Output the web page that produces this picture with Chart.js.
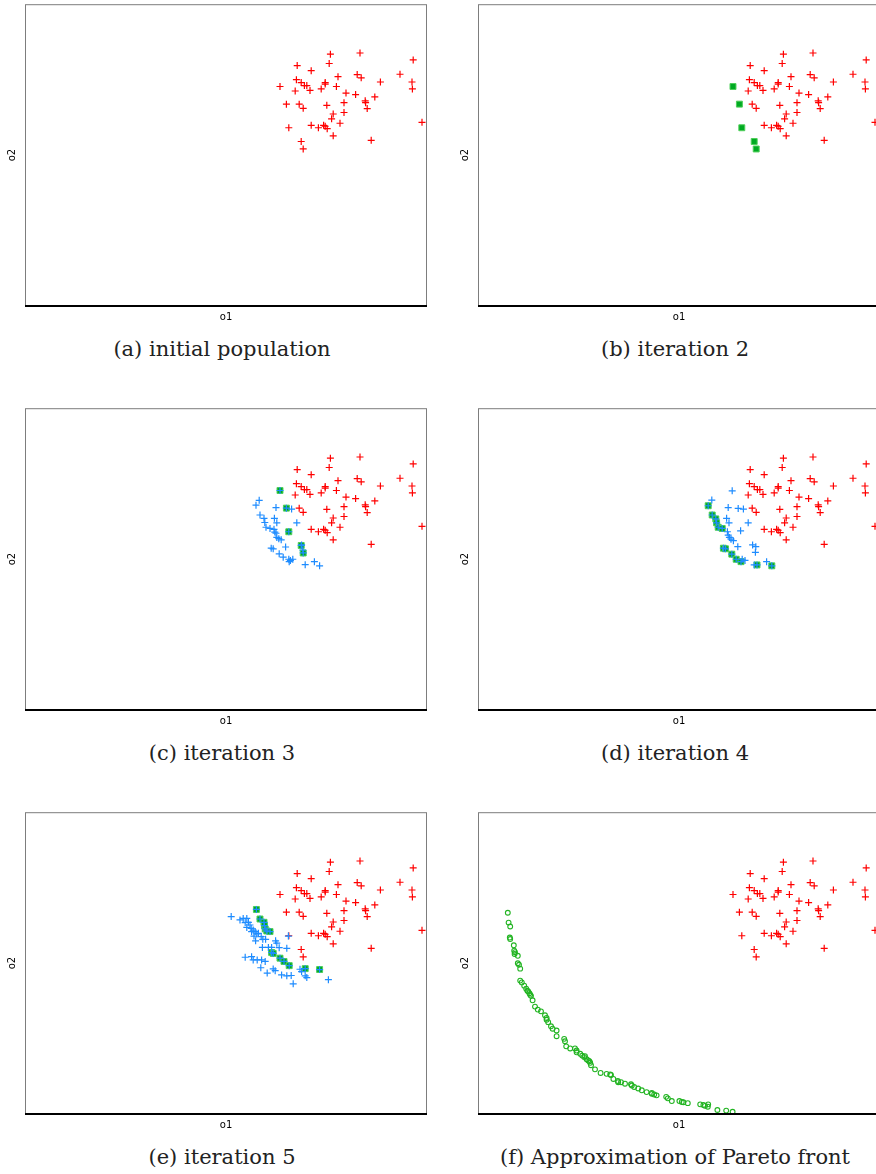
<!DOCTYPE html>
<html>
<head>
<meta charset="utf-8">
<script src="https://cdn.jsdelivr.net/npm/chart.js@4.4.0/dist/chart.umd.min.js"></script>
<style>
  html, body { margin:0; padding:0; background:#fff; width:876px; height:1174px; overflow:hidden; position:relative; }
  .panel { position:absolute; width:440px; height:330px; }
  .cap { position:absolute; width:440px; text-align:center; font-family:"DejaVu Serif", serif; font-size:21px; line-height:30px; color:#222; }
</style>
</head>
<body>
<div class="panel" style="left:0;top:0"><canvas id="pa" width="440" height="330"></canvas></div>
<div class="panel" style="left:453px;top:0"><canvas id="pb" width="440" height="330"></canvas></div>
<div class="panel" style="left:0;top:404px"><canvas id="pc" width="440" height="330"></canvas></div>
<div class="panel" style="left:453px;top:404px"><canvas id="pd" width="440" height="330"></canvas></div>
<div class="panel" style="left:0;top:808px"><canvas id="pe" width="440" height="330"></canvas></div>
<div class="panel" style="left:453px;top:808px"><canvas id="pf" width="440" height="330"></canvas></div>

<div class="cap" id="ca" style="left:2px;top:334px"></div>
<div class="cap" id="cb" style="left:455px;top:334px"></div>
<div class="cap" id="cc" style="left:2px;top:738px"></div>
<div class="cap" id="cd" style="left:455px;top:738px"></div>
<div class="cap" id="ce" style="left:2px;top:1142px"></div>
<div class="cap" id="cf" style="left:455px;top:1142px"></div>

<script>
  /* ── Data (axis units: o1 0..100, o2 0..100) ── */
  const axisX = 'o1';
  const axisY = 'o2';
  const captions = ['(a) initial population', '(b) iteration 2', '(c) iteration 3',
                    '(d) iteration 4', '(e) iteration 5', '(f) Approximation of Pareto front'];

  // initial population: the five non-dominated ones and the rest
  const redFront = [[63.5,73.1],[65.1,67.2],[65.7,59.3],[68.8,54.7],[69.3,52.2]];
  const redRest = [
    [76.1,83.9],[83.5,84.3],[96.8,82.0],[67.8,80.1],[71.3,78.4],[75.8,80.8],[78.0,76.4],[82.8,77.1],
    [83.8,76.0],[93.5,77.2],[67.6,75.4],[68.8,74.4],[69.6,73.4],[70.2,73.4],[71.0,71.8],[67.3,71.6],
    [73.8,72.3],[74.8,74.4],[74.8,73.9],[77.6,73.1],[80.0,70.9],[82.4,70.4],[88.6,74.6],[96.5,74.6],
    [96.6,72.3],[68.3,67.2],[69.3,65.8],[75.2,66.8],[79.5,67.7],[84.8,68.3],[84.9,67.7],[87.2,69.6],
    [85.3,65.7],[76.8,63.9],[76.4,62.3],[79.5,64.4],[78.5,60.8],[99.0,61.1],[71.3,60.1],[73.1,59.3],
    [74.4,60.1],[74.8,59.8],[75.3,59.0],[76.8,56.6],[86.3,55.1]
  ];

  // iteration 3 offspring
  const blueC = [
    [58.3,69.8],[57.5,68.2],[62.5,67.4],[66.4,66.9],[58.5,64.9],[59.5,63.8],[62.1,63.8],[59.7,62.4],
    [62.7,62.3],[67.7,62.3],[60.0,60.8],[61.0,60.4],[62.0,60.1],[62.2,59.2],[62.5,58.8],[62.7,57.4],
    [63.2,57.0],[63.8,56.6],[64.9,54.2],[61.3,53.8],[61.8,53.6],[63.3,51.9],[64.3,50.8],[65.7,50.1],
    [66.1,49.7],[66.7,50.1],[65.8,49.3],[69.8,48.3],[72.1,49.3],[73.4,47.9],[68.9,54.9],[69.2,53.2]
  ];

  // iteration 4
  const greenD = [
    [57.3,68.0],[58.3,64.9],[59.2,63.6],[59.4,62.3],[59.8,60.8],[60.8,60.4],[61.1,53.8],
    [61.6,53.6],[63.2,51.8],[64.3,50.1],[65.5,49.3],[69.5,48.2],[73.2,47.9]
  ];
  const blueD = [
    [63.3,73.0],[58.2,69.9],[62.3,67.4],[64.8,67.1],[66.1,66.9],[61.9,63.8],[62.5,62.3],[67.3,62.3],
    [62.1,59.3],[65.4,59.6],[62.3,58.2],[62.6,57.4],[63.0,56.8],[63.6,56.3],[64.7,54.3],[68.4,54.9],
    [69.2,54.3],[69.1,52.4],[65.8,50.1],[66.5,49.7],[68.8,48.2],[71.9,49.3]
  ];

  // iteration 5
  const greenE = [
    [57.6,68.1],[58.5,64.9],[59.5,63.8],[59.6,62.7],[59.8,61.6],[60.2,60.9],[61.0,60.7],
    [61.4,53.7],[61.8,53.4],[63.5,51.8],[64.5,50.7],[65.8,49.3],[69.8,48.3],[73.4,48.0]
  ];
  const blueE = [
    [51.3,65.7],[53.5,64.6],[54.3,65.1],[55.2,65.1],[54.8,63.7],[55.6,63.8],[56.0,62.9],[55.2,62.1],
    [56.3,61.8],[56.8,61.2],[57.3,60.7],[56.4,60.7],[57.7,59.9],[58.1,60.1],[57.0,59.2],[58.8,59.0],
    [59.2,58.1],[59.9,58.1],[57.4,57.6],[62.4,57.6],[62.7,56.8],[65.6,59.2],[59.1,55.4],[60.6,55.4],
    [61.4,55.4],[63.3,55.3],[65.2,55.1],[54.8,52.1],[56.4,52.3],[56.8,51.2],[57.8,51.2],[58.9,51.2],
    [59.8,50.7],[58.7,48.6],[61.8,48.2],[62.3,47.6],[60.3,46.8],[63.9,46.2],[65.2,45.9],[66.3,46.0],
    [68.5,48.1],[68.9,47.3],[69.8,45.9],[70.2,45.3],[66.8,43.2],[75.6,44.6]
  ];

  // approximated Pareto front
  const paretoF = [
    [7.2,67.0],[7.4,63.7],[7.8,62.4],[7.7,58.7],[7.8,58.2],[8.7,56.1],[8.8,54.3],[9.0,53.8],[8.9,53.2],
    [9.7,52.6],[9.7,50.1],[10.0,49.6],[10.3,48.3],[10.3,44.3],[10.7,43.7],[11.3,42.6],[11.8,41.6],
    [12.1,40.9],[12.3,40.7],[12.6,40.1],[12.8,39.6],[13.0,39.2],[13.4,37.7],[14.0,35.6],[14.7,34.6],
    [15.5,34.0],[16.5,32.7],[16.9,31.8],[16.9,31.2],[17.3,30.4],[18.0,29.0],[18.4,28.2],[19.4,27.6],
    [19.4,25.7],[21.3,24.8],[21.5,24.0],[21.8,22.3],[22.8,21.6],[24.0,21.6],[24.4,20.9],[24.4,20.3],
    [25.3,19.8],[25.8,19.2],[26.3,18.7],[26.5,19.0],[26.9,18.0],[27.3,17.6],[27.6,17.3],[27.8,16.8],
    [28.0,16.0],[29.0,14.6],[30.4,13.4],[31.9,13.1],[32.8,12.9],[33.0,12.7],[33.6,11.4],[34.7,10.7],
    [34.8,10.3],[35.5,10.3],[36.5,9.8],[38.0,9.6],[38.2,9.2],[38.8,8.7],[39.8,8.2],[40.7,7.6],
    [41.9,7.0],[43.2,6.7],[43.2,6.4],[43.8,6.2],[44.4,5.9],[46.8,5.4],[47.2,4.9],[48.2,4.0],
    [50.1,4.0],[50.7,3.7],[51.1,3.6],[52.2,3.3],[55.3,2.9],[56.1,2.7],[56.5,2.4],[57.2,2.1],
    [57.3,2.9],[59.6,1.0],[61.8,0.8],[63.4,0.4]
  ];

  /* ── Helpers ── */
  const pts = arr => arr.map(p => ({ x: p[0], y: p[1] }));

  function crossSet(arr, color) {
    return { data: pts(arr), pointStyle: 'cross', pointRadius: 3.5, pointBorderWidth: 1.2,
             pointBorderColor: color, pointBackgroundColor: color, showLine: false, clip: false };
  }
  function squareSet(arr) {
    return { data: pts(arr), pointStyle: 'rect', pointRadius: 4.2, pointBorderWidth: 1,
             pointBorderColor: '#4fcf5a', pointBackgroundColor: '#00aa22', showLine: false, clip: false };
  }
  function circleSet(arr) {
    return { data: pts(arr), pointStyle: 'circle', pointRadius: 2.4, pointBorderWidth: 1.1,
             pointBorderColor: '#22b422', pointBackgroundColor: 'rgba(0,0,0,0)', showLine: false, clip: false };
  }

  const RED = '#ff0000', BLUE = '#1e8cff';

  /* ── Plot frame (grey box, black base line) ── */
  const framePlugin = {
    id: 'frame',
    afterDraw(chart) {
      const a = chart.chartArea, ctx = chart.ctx;
      ctx.save();
      ctx.strokeStyle = '#7d7d7d'; ctx.lineWidth = 1;
      ctx.strokeRect(a.left - 0.5, a.top - 0.5, a.right - a.left + 1, a.bottom - a.top + 1);
      ctx.strokeStyle = '#000'; ctx.lineWidth = 2;
      ctx.beginPath(); ctx.moveTo(a.left - 1, a.bottom + 1); ctx.lineTo(a.right + 1, a.bottom + 1); ctx.stroke();
      ctx.restore();
    }
  };

  // first dataset is drawn on top
  const panels = [
    { id: 'pa', sets: [crossSet(redRest.concat(redFront), RED)] },
    { id: 'pb', sets: [squareSet(redFront), crossSet(redRest, RED)] },
    { id: 'pc', sets: [crossSet(blueC.concat(redFront), BLUE), squareSet(redFront), crossSet(redRest, RED)] },
    { id: 'pd', sets: [crossSet(blueD.concat(greenD), BLUE), squareSet(greenD), crossSet(redRest, RED)] },
    { id: 'pe', sets: [crossSet(blueE.concat(greenE), BLUE), squareSet(greenE), crossSet(redRest.concat(redFront), RED)] },
    { id: 'pf', sets: [circleSet(paretoF), crossSet(redRest.concat(redFront), RED)] }
  ];

  const titleFont = { family: 'DejaVu Sans', size: 10 };

  panels.forEach((p, i) => {
    new Chart(document.getElementById(p.id), {
      type: 'scatter',
      data: { datasets: p.sets },
      options: {
        responsive: false, animation: false, devicePixelRatio: 1,
        layout: { padding: { top: 4, right: 14, left: 2, bottom: 3 } },
        plugins: { legend: { display: false }, tooltip: { enabled: false } },
        scales: {
          x: { type: 'linear', min: 0, max: 100,
               ticks: { display: false }, grid: { display: false, drawTicks: false }, border: { display: false },
               title: { display: true, text: axisX, font: titleFont, color: '#000', padding: { top: 6, bottom: 4 } } },
          y: { type: 'linear', min: 0, max: 100.3,
               ticks: { display: false }, grid: { display: false, drawTicks: false }, border: { display: false },
               title: { display: true, text: axisY, font: titleFont, color: '#000', padding: { top: 4, bottom: 8 } } }
        }
      },
      plugins: [framePlugin]
    });
    document.getElementById('c' + p.id.slice(1)).textContent = captions[i];
  });
</script>
</body>
</html>
